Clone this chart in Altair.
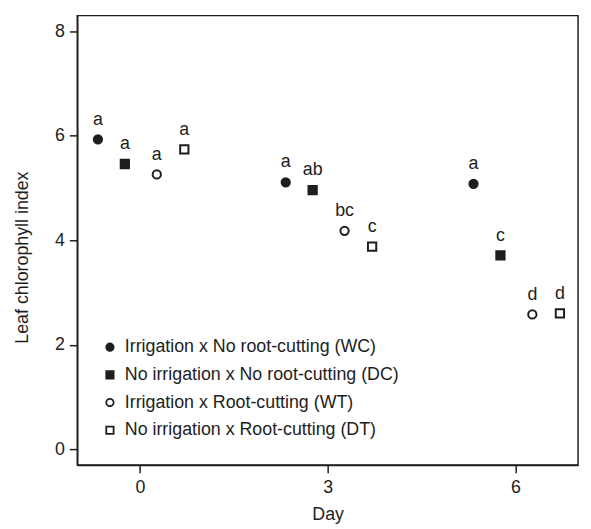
import altair as alt
import pandas as pd

days = [0, 3, 6]
treatments = [
    "Irrigation x No root-cutting (WC)",
    "No irrigation x No root-cutting (DC)",
    "Irrigation x Root-cutting (WT)",
    "No irrigation x Root-cutting (DT)",
]
wc_values = [5.93, 5.11, 5.08]
dc_values = [5.46, 4.96, 3.71]
wt_values = [5.26, 4.18, 2.58]
dt_values = [5.74, 3.88, 2.60]
wc_letters = ["a", "a", "a"]
dc_letters = ["a", "ab", "c"]
wt_letters = ["a", "bc", "d"]
dt_letters = ["a", "c", "d"]

# dodge of each treatment around its day (layout only)
dodge = [-0.67, -0.24, 0.27, 0.71]

series_vals = [wc_values, dc_values, wt_values, dt_values]
series_letters = [wc_letters, dc_letters, wt_letters, dt_letters]
rows = []
for ti, t in enumerate(treatments):
    for di, d in enumerate(days):
        rows.append({
            "treatment": t,
            "day": d,
            "dodge": dodge[ti],
            "value": series_vals[ti][di],
            "letter": series_letters[ti][di],
        })
df = pd.DataFrame(rows)

FONT = "Liberation Sans"
INK = "#1e1e1e"
FS = 18

base = alt.Chart(df).transform_calculate(xpos="datum.day + datum.dodge")

x_enc = alt.X("xpos:Q", title="Day",
              scale=alt.Scale(domain=[-1, 7], nice=False, zero=False),
              axis=alt.Axis(values=[0, 3, 6], format="d", grid=False, tickSize=8,
                            labelPadding=6, titlePadding=9))
y_enc = alt.Y("value:Q", title="Leaf chlorophyll index",
              scale=alt.Scale(domain=[-0.3, 8.3], nice=False, zero=False),
              axis=alt.Axis(values=[0, 2, 4, 6, 8], format="d", grid=False,
                            tickSize=8, labelPadding=5, titlePadding=23,
                            titleY=244))


def make_legend():
    return alt.Legend(title=None, orient="none", legendX=24, legendY=326,
                      symbolSize=55, symbolStrokeWidth=1.8,
                      labelFontSize=FS, labelFont=FONT, labelColor=INK,
                      rowPadding=10, labelOffset=6, labelLimit=500, padding=0)


points = base.mark_point(filled=True, strokeWidth=2, size=70,
                         opacity=1).encode(
    x=x_enc,
    y=y_enc,
    shape=alt.Shape("treatment:N", sort=treatments,
                    scale=alt.Scale(domain=treatments,
                                    range=["circle", "square", "circle", "square"]),
                    legend=make_legend()),
    fill=alt.Fill("treatment:N", sort=treatments,
                  scale=alt.Scale(domain=treatments,
                                  range=[INK, INK, "#ffffff", "#ffffff"]),
                  legend=make_legend()),
    stroke=alt.Stroke("treatment:N", sort=treatments,
                      scale=alt.Scale(domain=treatments,
                                      range=[INK, INK, INK, INK]),
                      legend=make_legend()),
)

labels = base.mark_text(dy=-20, fontSize=FS, font=FONT, color=INK).encode(
    x="xpos:Q",
    y="value:Q",
    text="letter:N",
)

chart = alt.layer(points, labels).properties(
    width=506, height=454,
    padding={"left": 5, "top": 5, "right": 5, "bottom": 0}
).configure_view(
    stroke=INK, strokeWidth=1.5
).configure_axis(
    domainColor=INK, tickColor=INK, domainWidth=1.5, tickWidth=1.5,
    labelFont=FONT, titleFont=FONT, labelFontSize=FS, titleFontSize=FS,
    labelColor=INK, titleColor=INK, titleFontWeight="normal"
)

chart.save("out.html", embed_options={"renderer": "svg", "actions": False})
